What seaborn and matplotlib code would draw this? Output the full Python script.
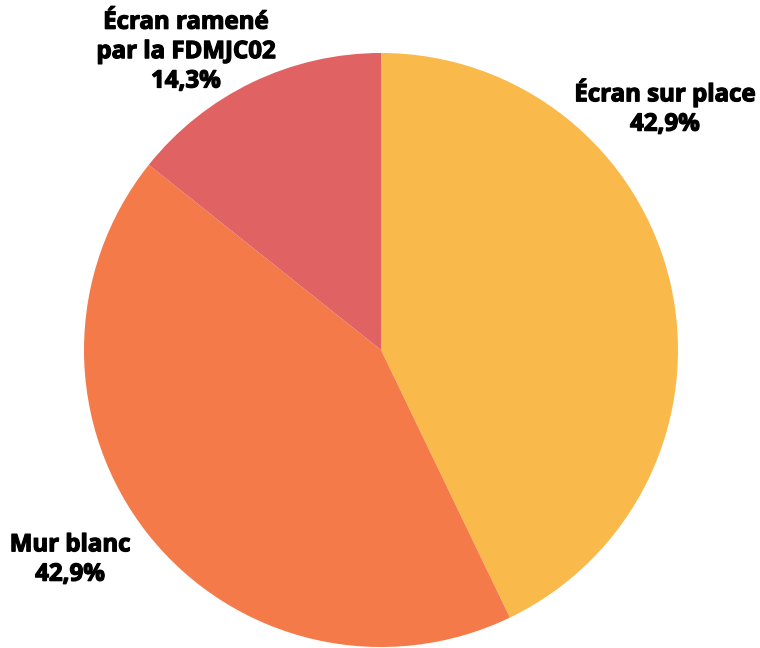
import matplotlib
matplotlib.use("Agg")
import matplotlib.pyplot as plt
import matplotlib.patheffects as pe
import seaborn as sns

# Data
labels = ["Écran sur place", "Mur blanc", "Écran ramené\npar la FDMJC02"]
values = [3, 3, 1]
colors = ["#F9B94B", "#F47A4A", "#E06262"]
# label anchor points (pie radius = 1)
label_pos = [(0.956, 0.815), (-1.047, -0.707), (-0.657, 1.003)]

sns.set_theme(style="white")
plt.rcParams["font.family"] = ["Open Sans", "DejaVu Sans"]

fig = plt.figure(figsize=(7.6, 6.48), dpi=100)
ax = fig.add_axes([84 / 760, 1 / 648, 594 / 760, 594 / 648])

ax.pie(values, colors=colors, startangle=90, counterclock=False,
       radius=1, wedgeprops=dict(linewidth=0))
ax.set_xlim(-1, 1)
ax.set_ylim(-1, 1)

total = sum(values)
for lab, v, (x, y) in zip(labels, values, label_pos):
    pct = f"{100 * v / total:.1f}%".replace(".", ",")
    ax.text(x, y, f"{lab}\n{pct}", ha="center", va="center",
            fontsize=17.3, fontweight="bold", color="black",
            linespacing=1.3, clip_on=False,
            path_effects=[pe.withStroke(linewidth=0.9, foreground="black")])

fig.savefig("out.png", dpi=100)
